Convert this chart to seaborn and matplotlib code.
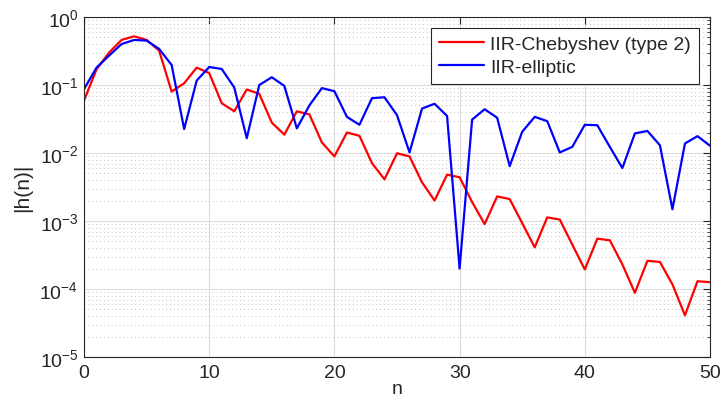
import numpy as np
import pandas as pd
import matplotlib
matplotlib.use("Agg")
import matplotlib.pyplot as plt
import seaborn as sns
from matplotlib.ticker import LogLocator, FixedLocator

# Impulse response magnitudes |h(n)|, n = 0..50
n_vals = list(range(51))
cheby2 = [0.059, 0.17, 0.30, 0.46, 0.52, 0.46, 0.32, 0.080, 0.106, 0.18,
          0.15, 0.054, 0.041, 0.086, 0.074, 0.028, 0.0186, 0.041, 0.037, 0.0143,
          0.0089, 0.020, 0.0179, 0.0071, 0.0041, 0.0099, 0.0089, 0.0037, 0.0020, 0.0048,
          0.0044, 0.0019, 0.0009, 0.0023, 0.0021, 0.00093, 0.00041, 0.00113, 0.00105, 0.00045,
          0.000194, 0.00055, 0.00052, 0.00023, 0.000088, 0.00026, 0.00025, 0.000117, 0.000041, 0.00013,
          0.000126]
elliptic = [0.087, 0.18, 0.27, 0.40, 0.46, 0.45, 0.34, 0.197, 0.0225, 0.116,
            0.184, 0.172, 0.092, 0.0165, 0.10, 0.13, 0.097, 0.023, 0.050, 0.090,
            0.081, 0.034, 0.026, 0.064, 0.066, 0.036, 0.0102, 0.045, 0.053, 0.035,
            0.0002, 0.031, 0.044, 0.033, 0.0064, 0.0205, 0.034, 0.0294, 0.0102, 0.0123,
            0.026, 0.0256, 0.0123, 0.0060, 0.0194, 0.0211, 0.0130, 0.00149, 0.0138, 0.0177,
            0.0128]
series_names = ["IIR-Chebyshev (type 2)", "IIR-elliptic"]
x_ticks = [0, 10, 20, 30, 40, 50]

df = pd.DataFrame({
    "n": n_vals * 2,
    "h": cheby2 + elliptic,
    "filter": [series_names[0]] * len(n_vals) + [series_names[1]] * len(n_vals),
})

sns.set_style("white")
plt.rcParams["font.family"] = ["Liberation Sans", "DejaVu Sans"]
plt.rcParams["mathtext.fontset"] = "custom"
plt.rcParams["mathtext.rm"] = "Liberation Sans"
plt.rcParams["mathtext.it"] = "Liberation Sans:italic"

fig = plt.figure(figsize=(7.21, 4.14), dpi=100)
ax = fig.add_axes([84 / 721, 1 - 358 / 414, (710 - 84) / 721, (358 - 18) / 414])

sns.lineplot(data=df, x="n", y="h", hue="filter", hue_order=series_names,
             palette=["#ff0000", "#0000ff"], linewidth=1.6, ax=ax)

ax.set_yscale("log")
ax.set_xlim(0, 50)
ax.set_ylim(1e-5, 1)
ax.xaxis.set_major_locator(FixedLocator(x_ticks))
ax.yaxis.set_major_locator(LogLocator(base=10, numticks=10))
ax.yaxis.set_minor_locator(LogLocator(base=10, subs=np.arange(2, 10), numticks=20))

ax.grid(True, which="major", color="#dcdcdc", linewidth=0.8, linestyle="-")
ax.grid(True, which="minor", axis="y", color="#c4c4c4", linewidth=0.7, linestyle=(0, (1, 3)))
ax.set_axisbelow(True)

axis_col = "#262626"
for s in ax.spines.values():
    s.set_color(axis_col)
    s.set_linewidth(0.8)
ax.tick_params(which="both", direction="in", top=True, right=True, colors=axis_col,
               labelsize=14, labelcolor=axis_col)
ax.tick_params(which="major", length=5)
ax.tick_params(which="minor", length=2.5)
ax.tick_params(axis="x", pad=5)
ax.tick_params(axis="y", pad=4)

ax.set_xlabel("n", fontsize=14, color=axis_col, labelpad=-1)
ax.set_ylabel("|h(n)|", fontsize=15, color=axis_col, labelpad=5)

leg = ax.legend(loc="upper right", bbox_to_anchor=(0.9824, 0.968), fontsize=14,
                frameon=True, fancybox=False, handlelength=2.3, handletextpad=0.35,
                borderpad=0.4, labelspacing=0.25, borderaxespad=0)
leg.get_frame().set_edgecolor(axis_col)
leg.get_frame().set_linewidth(0.8)
leg.get_frame().set_alpha(1)

fig.savefig("out.png", dpi=100)
